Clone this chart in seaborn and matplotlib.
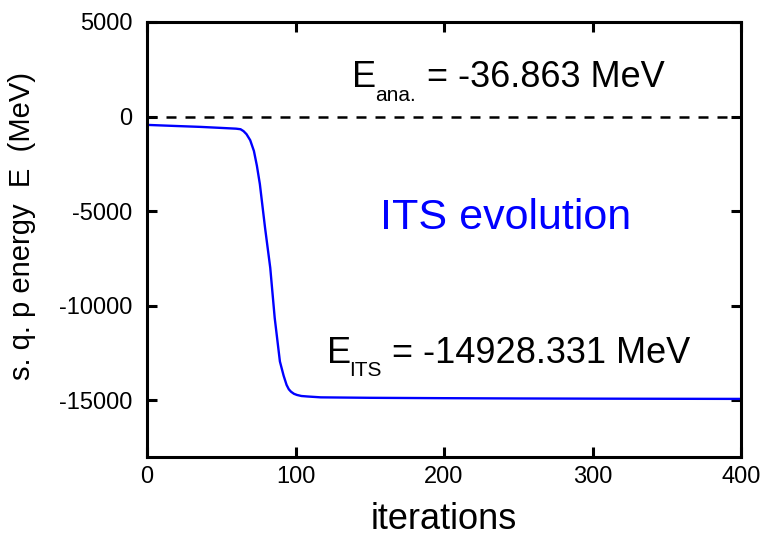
import matplotlib
matplotlib.use("Agg")
import matplotlib.pyplot as plt
import seaborn as sns
import pandas as pd

# values
iterations = [0, 20, 36, 50, 60, 63, 65, 67, 69.5, 72, 74, 76, 79.5, 83, 86,
              89.5, 92, 94, 95.5, 97, 99, 101, 104, 108, 117, 150, 200, 250,
              300, 350, 400]
energy = [-440, -500, -546, -600, -640, -670, -770, -930, -1250, -1820, -2600,
          -3570, -5885, -8000, -10650, -12950, -13700, -14190, -14420, -14550,
          -14660, -14720, -14775, -14800, -14846, -14870, -14890, -14905,
          -14915, -14922, -14928.331]
e_ana = -36.863
e_its = -14928.331

x_ticks = [0, 100, 200, 300, 400]
y_ticks = [5000, 0, -5000, -10000, -15000]

df = pd.DataFrame({"iterations": iterations, "energy": energy})

sns.set_style("ticks")
plt.rcParams["font.family"] = ["Liberation Sans", "DejaVu Sans"]
plt.rcParams["axes.unicode_minus"] = False
plt.rcParams["text.color"] = "black"
plt.rcParams["axes.labelcolor"] = "black"
plt.rcParams["axes.edgecolor"] = "black"
plt.rcParams["xtick.color"] = "black"
plt.rcParams["ytick.color"] = "black"

fig = plt.figure(figsize=(7.61, 5.44), dpi=100)
ax = fig.add_axes([147 / 761, 87 / 544, 594 / 761, 435 / 544])

sns.lineplot(data=df, x="iterations", y="energy", ax=ax, color="#0000ff",
             linewidth=1.7, sort=False, estimator=None)
ax.axhline(e_ana, color="black", linewidth=1.8, linestyle=(0, (4, 3.6)))

ax.set_xlim(0, 400)
ax.set_ylim(-18000, 5000)
ax.set_xticks(x_ticks)
ax.set_yticks(y_ticks)
ax.set_xticklabels([str(v) for v in x_ticks])
ax.set_yticklabels([str(v) for v in y_ticks])

for s in ax.spines.values():
    s.set_visible(True)
    s.set_linewidth(2.2)
    s.set_color("black")
ax.tick_params(direction="in", length=7, width=2.2, top=True, right=True,
               labelsize=17, color="black", labelcolor="black")
ax.tick_params(axis="x", pad=6.5)
ax.tick_params(axis="y", pad=10.5)

ax.set_xlabel("iterations", fontsize=26, va="center")
ax.xaxis.set_label_coords(0.5, -0.143)
ax.set_ylabel("s. q. p energy  E  (MeV)", fontsize=21, va="center")
ax.yaxis.set_label_coords(-0.211, 0.531)

# annotations
ax.text(138, 1538, "E", fontsize=26, ha="left", va="baseline")
ax.annotate("ana.", xy=(138, 1538), xytext=(16.6, -10), textcoords="offset points",
            fontsize=15, ha="left", va="baseline")
ax.annotate("= %.3f MeV" % e_ana, xy=(138, 1538), xytext=(54, 0),
            textcoords="offset points", fontsize=26, ha="left", va="baseline")

ax.text(121.5, -13043, "E", fontsize=26, ha="left", va="baseline")
ax.annotate("ITS", xy=(121.5, -13043), xytext=(15.8, -8.9), textcoords="offset points",
            fontsize=15, ha="left", va="baseline")
ax.annotate("= %.3f MeV" % e_its, xy=(121.5, -13043), xytext=(46.8, 0),
            textcoords="offset points", fontsize=26, ha="left", va="baseline")

ax.text(156.9, -5954, "ITS evolution", fontsize=31, color="#0000ff",
        ha="left", va="baseline")

fig.savefig("out.png", dpi=100)
